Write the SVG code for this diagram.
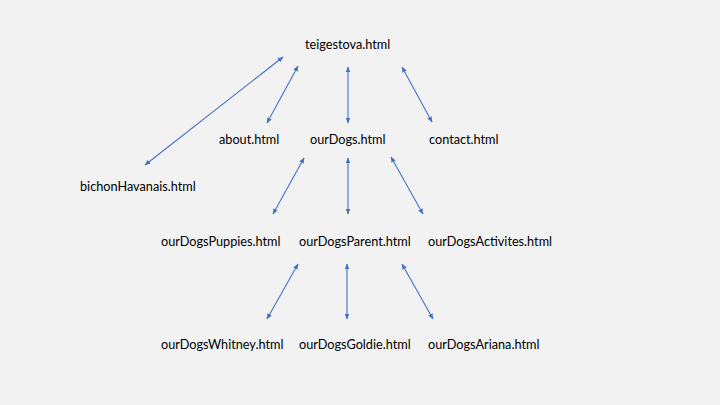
<svg xmlns="http://www.w3.org/2000/svg" width="720" height="405" viewBox="0 0 720 405">
<style>
text{font-family:"Lato","Open Sans","Liberation Sans",sans-serif;font-size:12.7px;fill:#000}
.c line{stroke:#4472C4;stroke-width:1.1;marker-start:url(#a);marker-end:url(#a)}
</style>
<defs>
<marker id="a" viewBox="0 0 10 10" refX="9" refY="5" markerWidth="6" markerHeight="6" orient="auto-start-reverse" markerUnits="userSpaceOnUse"><path d="M0,1 L10,5 L0,9 z" fill="#4472C4"/></marker>
</defs>
<rect width="720" height="405" fill="#F2F2F2"/>
<g id="teigestova"><text x="305" y="49">teigestova.html</text></g>
<g id="about"><text x="219" y="144">about.html</text></g>
<g id="ourDogs"><text x="310" y="144">ourDogs.html</text></g>
<g id="contact"><text x="429" y="144">contact.html</text></g>
<g id="bichon"><text x="80" y="191">bichonHavanais.html</text></g>
<g id="puppies"><text x="161" y="246">ourDogsPuppies.html</text></g>
<g id="parent"><text x="299" y="246">ourDogsParent.html</text></g>
<g id="activites"><text x="428" y="246">ourDogsActivites.html</text></g>
<g id="whitney"><text x="161" y="349">ourDogsWhitney.html</text></g>
<g id="goldie"><text x="299" y="349">ourDogsGoldie.html</text></g>
<g id="ariana"><text x="428" y="349">ourDogsAriana.html</text></g>
<g class="c" id="connectors">
<line x1="283" y1="57" x2="145" y2="165"/>
<line x1="298" y1="66" x2="267" y2="123"/>
<line x1="348" y1="67" x2="348" y2="123"/>
<line x1="402" y1="67" x2="432" y2="122"/>
<line x1="304" y1="158" x2="273" y2="214"/>
<line x1="348" y1="158" x2="348" y2="214"/>
<line x1="391" y1="157" x2="423" y2="214"/>
<line x1="298" y1="264" x2="267" y2="319"/>
<line x1="347" y1="264" x2="347" y2="319"/>
<line x1="402" y1="264" x2="433" y2="319"/>
</g>
</svg>
